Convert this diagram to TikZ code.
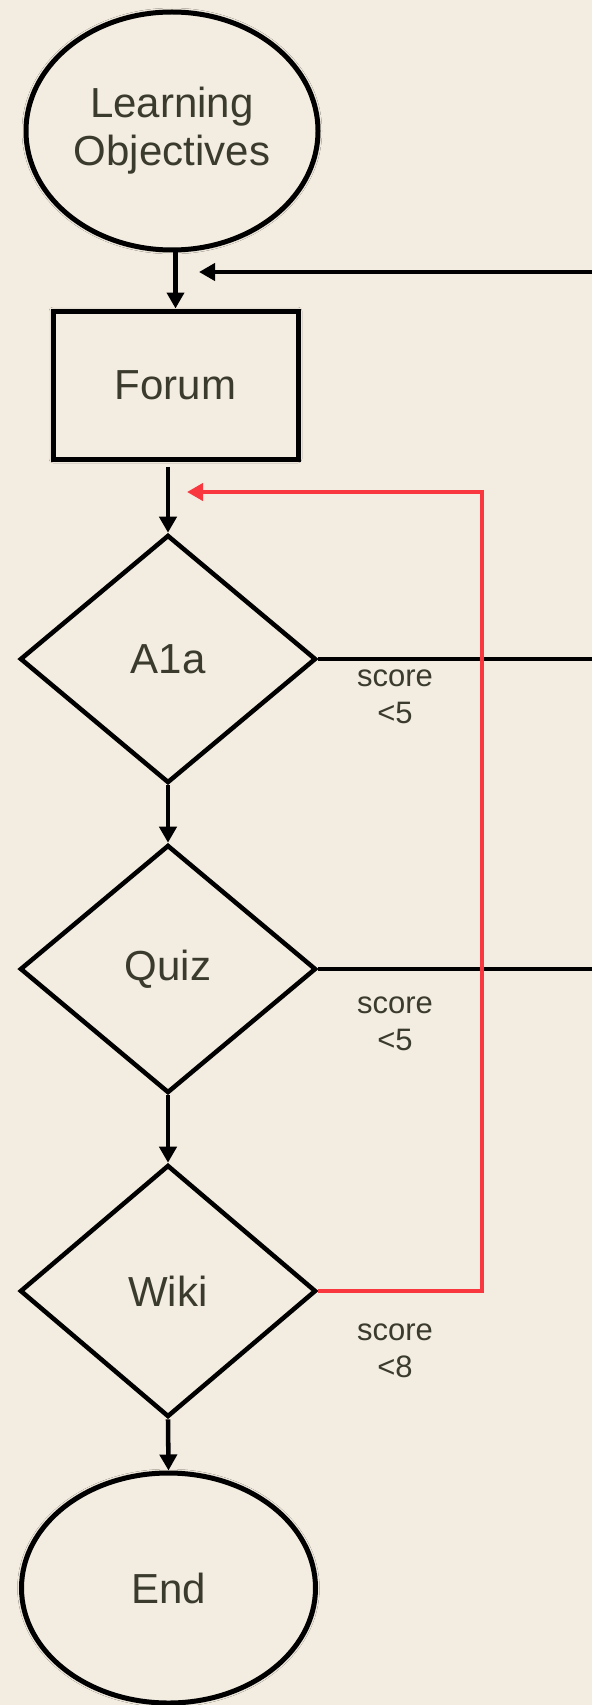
\documentclass[tikz,border=0pt]{standalone}
\usepackage{fontspec}
\setmainfont{Liberation Sans}
\usetikzlibrary{shapes.geometric,arrows.meta,shadows.blur}
\definecolor{paper}{RGB}{243,236,224}
\definecolor{ink}{RGB}{58,59,45}
\definecolor{redline}{RGB}{248,56,62}
\begin{document}
\begin{tikzpicture}[x=0.75pt,y=-0.75pt,
  halo/.style={blur shadow={shadow xshift=0pt,shadow yshift=0pt,shadow blur radius=3pt,shadow opacity=30}},
  shapebase/.style={draw=black,fill=paper,text=ink,inner sep=0pt,align=center,
    font=\fontsize{31.5pt}{36pt}\selectfont},
  oval/.style={shapebase,ellipse,line width=3.75pt,halo},
  box/.style={shapebase,rectangle,line width=3.75pt,halo},
  decision/.style={shapebase,diamond,line width=3.4pt},
  conn/.style={line width=3.4pt,draw=black},
  redconn/.style={line width=3.4pt,draw=redline},
  tip/.style={-{Triangle[length=12pt,width=12.75pt]}},
  cond/.style={text=ink,align=center,anchor=base,inner sep=0pt,
    font=\fontsize{23.25pt}{27.75pt}\selectfont}]
\fill[paper] (0,0) rectangle (592,1705);
\useasboundingbox (0,0) rectangle (592,1705);

\node[oval,minimum width=219pt,minimum height=178.5pt] (lo) at (172,131) {Learning\\Objectives};
\node[box,minimum width=183.75pt,minimum height=111pt] (forum) at (175.5,385) {Forum};
\node[decision,minimum width=222pt,minimum height=186pt] (a1a) at (168,659) {A1a};
\node[decision,minimum width=222pt,minimum height=186pt] (quiz) at (168,969) {Quiz};
\node[decision,minimum width=222pt,minimum height=189pt] (wiki) at (168,1291) {Wiki};
\node[oval,minimum width=220.5pt,minimum height=172.5pt] (end) at (168.5,1588) {End};

\node[cond] (l1) at (395,723) {score\\<5};
\node[cond] (l2) at (395,1050) {score\\<5};
\node[cond] (l3) at (395,1377) {score\\<8};

\coordinate (inA) at (592,272);
\coordinate (tipA) at (199,272);
\coordinate (outA) at (592,659);
\coordinate (outQ) at (592,969);
\coordinate (rc) at (482,492);
\coordinate (rtip) at (187,492);

\draw[conn,tip] (forum.north |- lo.south) -- (forum.north);
\draw[conn,tip] (inA) -- (tipA);
\draw[conn,tip] ([yshift=-4pt]a1a.north |- forum.south) -- (a1a.north);
\draw[conn,tip] (a1a.south) -- (quiz.north);
\draw[conn,tip] (quiz.south) -- (wiki.north);
\draw[conn,tip] (wiki.south) -- (end.north);
\draw[conn] (a1a.east) -- (outA);
\draw[conn] (quiz.east) -- (outQ);
\draw[redconn,tip] (wiki.east) -| (rc) -- (rtip);
\end{tikzpicture}
\end{document}
